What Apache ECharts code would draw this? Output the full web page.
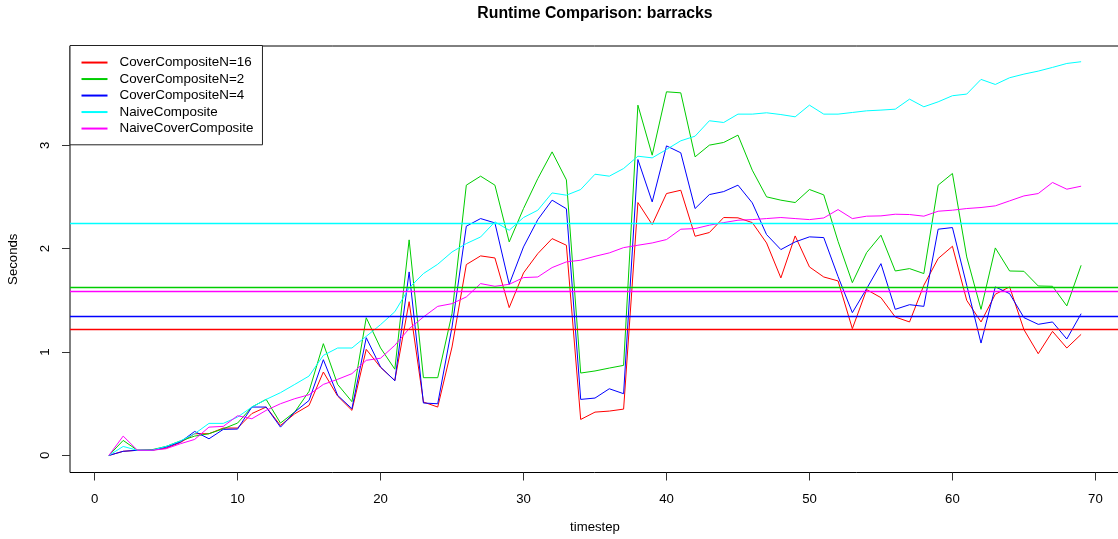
<!DOCTYPE html>
<html>
<head>
<meta charset="utf-8">
<script src="https://cdn.jsdelivr.net/npm/echarts@6/dist/echarts.min.js"></script>
<style>
html,body{margin:0;padding:0;background:#fff;}
#chart{width:1118px;height:539px;}
</style>
</head>
<body>
<div id="chart"></div>
<script>
// ---- data ----
const timesteps = [1,2,3,4,5,6,7,8,9,10,11,12,13,14,15,16,17,18,19,20,21,22,23,24,25,26,27,28,29,30,31,32,33,34,35,36,37,38,39,40,41,42,43,44,45,46,47,48,49,50,51,52,53,54,55,56,57,58,59,60,61,62,63,64,65,66,67,68,69];

const seriesNames = ['CoverCompositeN=16','CoverCompositeN=2','CoverCompositeN=4','NaiveComposite','NaiveCoverComposite'];
const seriesColors = ['#FF0000','#00CD00','#0000FF','#00FFFF','#FF00FF'];

const coverN16 = [0,0.04,0.05,0.05,0.07,0.125,0.21,0.21,0.265,0.265,
  0.405,0.468,0.29,0.403,0.484,0.807,0.574,0.436,1.026,0.852,
  0.725,1.487,0.517,0.468,1.049,1.846,1.93,1.91,1.43,1.765,
  1.952,2.097,2.033,0.348,0.419,0.429,0.448,2.446,2.233,2.533,
  2.565,2.12,2.156,2.301,2.298,2.252,2.055,1.717,2.123,1.823,
  1.726,1.688,1.226,1.604,1.526,1.339,1.291,1.646,1.904,2.023,
  1.5,1.291,1.559,1.63,1.217,0.984,1.2,1.039,1.171];

const coverN2 = [0,0.145,0.05,0.055,0.087,0.14,0.187,0.21,0.258,0.313,
  0.468,0.542,0.313,0.42,0.62,1.081,0.687,0.52,1.332,1.04,
  0.834,2.085,0.752,0.752,1.371,2.614,2.701,2.614,2.065,2.388,
  2.678,2.936,2.665,0.797,0.817,0.845,0.871,3.388,2.904,3.517,
  3.507,2.888,3.001,3.027,3.098,2.759,2.501,2.469,2.446,2.572,
  2.52,2.07,1.671,1.962,2.13,1.784,1.807,1.759,2.614,2.727,
  1.92,1.413,2.007,1.784,1.781,1.639,1.636,1.446,1.839];

const coverN4 = [0,0.04,0.05,0.05,0.08,0.13,0.232,0.161,0.252,0.255,
  0.468,0.468,0.274,0.42,0.532,0.926,0.581,0.452,1.139,0.855,
  0.722,1.775,0.507,0.5,1.242,2.217,2.291,2.249,1.655,2.017,
  2.281,2.469,2.386,0.542,0.555,0.645,0.597,2.862,2.452,2.994,
  2.927,2.388,2.523,2.552,2.614,2.443,2.136,1.991,2.065,2.114,
  2.107,1.73,1.381,1.613,1.855,1.413,1.458,1.442,2.188,2.204,
  1.646,1.087,1.63,1.565,1.333,1.268,1.291,1.126,1.371];

const naive = [0,0.087,0.05,0.05,0.087,0.14,0.21,0.31,0.31,0.371,
  0.468,0.542,0.607,0.687,0.768,0.968,1.039,1.039,1.152,1.265,
  1.39,1.62,1.759,1.849,1.968,2.049,2.113,2.259,2.178,2.301,
  2.372,2.539,2.517,2.572,2.72,2.701,2.775,2.894,2.878,2.959,
  3.043,3.088,3.237,3.22,3.301,3.301,3.314,3.297,3.275,3.388,
  3.301,3.301,3.317,3.333,3.34,3.349,3.446,3.372,3.42,3.479,
  3.495,3.637,3.588,3.653,3.688,3.717,3.753,3.791,3.808];

const naiveCover = [0,0.187,0.05,0.05,0.065,0.113,0.155,0.274,0.281,0.384,
  0.355,0.436,0.5,0.549,0.587,0.687,0.736,0.791,0.92,0.94,
  1.065,1.226,1.339,1.442,1.468,1.533,1.662,1.636,1.655,1.72,
  1.726,1.817,1.872,1.888,1.926,1.959,2.01,2.033,2.055,2.088,
  2.188,2.194,2.227,2.252,2.275,2.281,2.291,2.301,2.291,2.281,
  2.297,2.378,2.291,2.314,2.317,2.333,2.33,2.314,2.362,2.372,
  2.388,2.398,2.414,2.462,2.51,2.533,2.64,2.575,2.604];

// horizontal reference (mean) lines, one per series
const meanLines = [1.216, 1.634, 1.350, 2.254, 1.595];

const xTicks = [0,10,20,30,40,50,60,70];
const yTicks = [0,1,2,3];

// ---- chart ----
const FONT = "'Liberation Sans', Arial, Helvetica, sans-serif";
const allValues = [coverN16, coverN2, coverN4, naive, naiveCover];

const series = seriesNames.map((name, i) => ({
  name: name,
  type: 'line',
  data: timesteps.map((t, k) => [t, allValues[i][k]]),
  showSymbol: false,
  symbol: 'none',
  lineStyle: { color: seriesColors[i], width: 1 },
  itemStyle: { color: seriesColors[i] },
  emphasis: { disabled: true },
  silent: true,
  markLine: {
    silent: true,
    symbol: 'none',
    label: { show: false },
    lineStyle: { color: seriesColors[i], width: 1.3, type: 'solid' },
    data: [{ yAxis: meanLines[i] }]
  }
}));

const chart = echarts.init(document.getElementById('chart'), null, { renderer: 'canvas' });
chart.setOption({
  animation: false,
  backgroundColor: '#ffffff',
  textStyle: { fontFamily: FONT },
  title: {
    text: 'Runtime Comparison: barracks',
    left: 595,
    textAlign: 'center',
    top: 4.5,
    padding: 0,
    textStyle: { fontFamily: FONT, fontWeight: 'bold', fontSize: 15.8, color: '#000', lineHeight: 18 }
  },
  legend: {
    orient: 'vertical',
    left: 70,
    top: 45.5,
    padding: [8.8, 9, 8, 11.5],
    itemGap: 0,
    itemWidth: 26,
    itemHeight: 2,
    icon: 'rect',
    borderColor: '#222',
    borderWidth: 1,
    backgroundColor: '#fff',
    textStyle: { fontFamily: FONT, fontSize: 13.4, color: '#000', lineHeight: 16.5, padding: [0, 0, 0, 7] },
    data: seriesNames,
    selectedMode: false
  },
  grid: {
    left: 70, top: 46, width: 1050, height: 426.5,
    outerBoundsMode: 'none',
    show: true, borderColor: '#000', borderWidth: 1, backgroundColor: 'transparent',
    containLabel: false
  },
  xAxis: {
    type: 'value',
    min: -1.72, max: 71.72,
    name: 'timestep',
    nameLocation: 'middle',
    nameGap: 48,
    nameTextStyle: { fontFamily: FONT, fontSize: 13.2, color: '#000', lineHeight: 14 },
    axisLine: { show: false, onZero: false },
    axisTick: { show: true, inside: false, length: 8, lineStyle: { color: '#333' }, customValues: xTicks },
    axisLabel: { show: true, margin: 19.5, fontFamily: FONT, fontSize: 13.2, color: '#000', lineHeight: 14, customValues: xTicks },
    splitLine: { show: false }
  },
  yAxis: {
    type: 'value',
    min: -0.165, max: 3.96,
    name: 'Seconds',
    nameLocation: 'middle',
    nameGap: 50,
    nameTextStyle: { fontFamily: FONT, fontSize: 13.2, color: '#000', lineHeight: 14 },
    axisLine: { show: false, onZero: false },
    axisTick: { show: true, inside: false, length: 8, lineStyle: { color: '#333' }, customValues: yTicks },
    axisLabel: { show: true, rotate: 90, margin: 17.3, fontFamily: FONT, fontSize: 13.2, color: '#000', lineHeight: 14, customValues: yTicks },
    splitLine: { show: false }
  },
  series: series
});
</script>
</body>
</html>
